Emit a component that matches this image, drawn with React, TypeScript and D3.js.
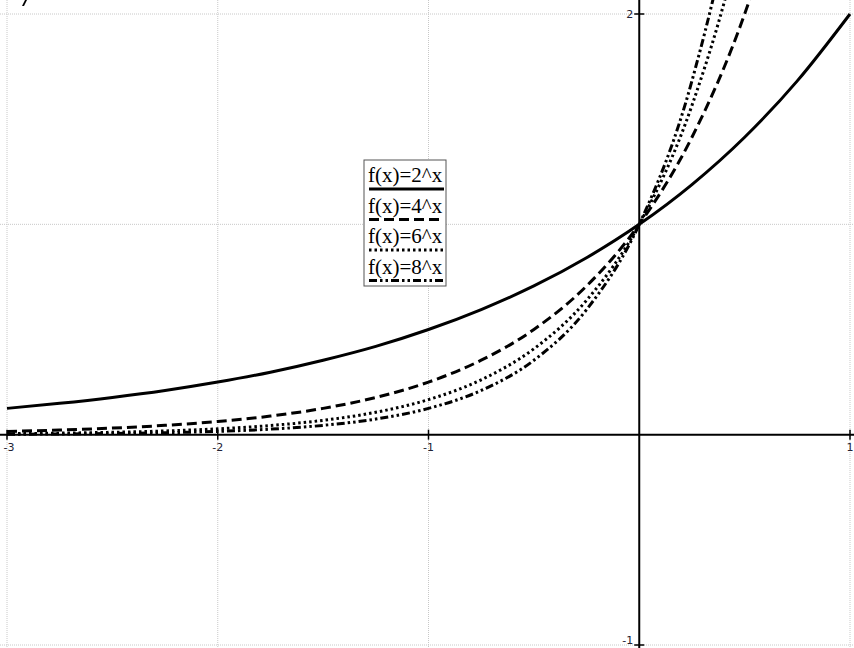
import React from "react";
import * as d3 from "d3";

const xs = [-3, -2.75, -2.5, -2.25, -2, -1.75, -1.5, -1.25, -1, -0.75, -0.5, -0.25, 0, 0.25, 0.5, 0.75, 1];
const pow2 = [0.125, 0.149, 0.177, 0.21, 0.25, 0.297, 0.354, 0.42, 0.5, 0.595, 0.707, 0.841, 1, 1.189, 1.414, 1.682, 2];
const pow4 = [0.0156, 0.0221, 0.0313, 0.0442, 0.0625, 0.0884, 0.125, 0.177, 0.25, 0.354, 0.5, 0.707, 1, 1.414, 2, 2.83, 4];
const pow6 = [0.0046, 0.0072, 0.0113, 0.0177, 0.0278, 0.0435, 0.068, 0.1065, 0.1667, 0.2609, 0.4082, 0.6389, 1, 1.565, 2.449, 3.834, 6];
const pow8 = [0.002, 0.0033, 0.0055, 0.0093, 0.0156, 0.0263, 0.0442, 0.0743, 0.125, 0.2102, 0.3536, 0.5946, 1, 1.682, 2.828, 4.757, 8];

const labels = ["f(x)=2^x", "f(x)=4^x", "f(x)=6^x", "f(x)=8^x"];
const dashes = ["none", "10,5", "2.5,3", "8,3,2.5,3,2.5,3"];
const seriesValues = [pow2, pow4, pow6, pow8];

const xTicks = [-3, -2, -1, 1];
const yTicks = [2, -1];
const xGrid = [-3, -2, -1, 1];
const yGrid = [2, 1, -1];

const W = 854;
const H = 648;

export default function App() {
  const x = d3.scaleLinear().domain([-3, 1]).range([7, 850]);
  const y = d3.scaleLinear().domain([-1, 2]).range([645, 14]);

  const line = d3
    .line<number>()
    .x((_, i) => x(xs[i]))
    .y((d) => y(d))
    .curve(d3.curveMonotoneX);

  const lx = 364;
  const ly = 160;

  return (
    <svg width={W} height={H} style={{ position: "absolute", left: 0, top: 0, background: "#fff" }}>
      <defs>
        <clipPath id="plot">
          <rect x={0} y={0} width={W} height={H} />
        </clipPath>
      </defs>
      {/* grid */}
      {xGrid.map((v) => (
        <line key={"gx" + v} x1={x(v)} x2={x(v)} y1={0} y2={H} stroke="#c8c8c8" strokeWidth={1} strokeDasharray="1,1" />
      ))}
      {yGrid.map((v) => (
        <line key={"gy" + v} x1={0} x2={W} y1={y(v)} y2={y(v)} stroke="#c8c8c8" strokeWidth={1} strokeDasharray="1,1" />
      ))}

      {/* axes */}
      <line x1={0} x2={W} y1={y(0)} y2={y(0)} stroke="#000" strokeWidth={2} />
      <line x1={x(0)} x2={x(0)} y1={0} y2={H} stroke="#000" strokeWidth={2} />
      {xTicks.map((v) => (
        <g key={"tx" + v}>
          <line x1={x(v)} x2={x(v)} y1={y(0) - 5} y2={y(0) + 5} stroke="#000" strokeWidth={1.5} />
          <text x={v === -3 ? x(v) + 2 : x(v)} y={y(0) + 16} fontSize={11} fontFamily="DejaVu Sans, sans-serif" textAnchor="middle" fill="#223">
            {v}
          </text>
        </g>
      ))}
      {yTicks.map((v) => (
        <g key={"ty" + v}>
          <line x1={x(0) - 5} x2={x(0) + 5} y1={y(v)} y2={y(v)} stroke="#000" strokeWidth={1.5} />
          <text x={x(0) - 6} y={v < 0 ? y(v) - 1 : y(v) + 4} fontSize={11} fontFamily="DejaVu Sans, sans-serif" textAnchor="end" fill="#223">
            {v}
          </text>
        </g>
      ))}

      {/* curves */}
      <g clipPath="url(#plot)">
        {seriesValues.map((vals, i) => (
          <path
            key={labels[i]}
            d={line(vals) ?? ""}
            fill="none"
            stroke="#000"
            strokeWidth={3}
            strokeDasharray={dashes[i]}
          />
        ))}
      </g>

      {/* legend */}
      <rect x={lx} y={ly} width={82} height={126} fill="#fff" stroke="#555" strokeWidth={1} />
      {labels.map((t, i) => (
        <g key={"lg" + t}>
          <text x={lx + 4} y={ly + 22 + i * 30.5} fontSize={21} fontFamily="Liberation Serif, serif" fill="#000">
            {t}
          </text>
          <line
            x1={lx + 5}
            x2={lx + 80}
            y1={ly + 29 + i * 30.5}
            y2={ly + 29 + i * 30.5}
            stroke="#000"
            strokeWidth={3}
            strokeDasharray={dashes[i]}
          />
        </g>
      ))}

      {/* cut-off mark at the top-left corner */}
      <path d="M22,6 L25,0 L27,0 L24,6 Z" fill="#000" />
    </svg>
  );
}
